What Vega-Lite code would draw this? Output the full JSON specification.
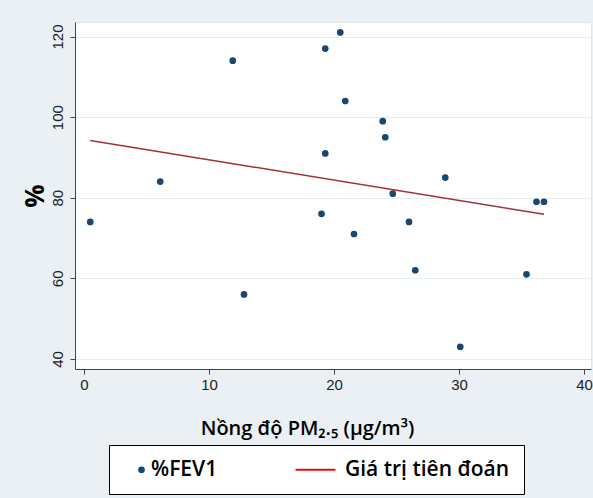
{
  "$schema": "https://vega.github.io/schema/vega-lite/v6.json",
  "width": 516,
  "height": 347,
  "autosize": {"type": "none"},
  "padding": {"left": 75, "top": 22, "right": 2, "bottom": 129},
  "background": "#eaf0f3",
  "config": {
    "view": {"fill": "white", "stroke": "#dde6ea", "strokeWidth": 1},
    "font": "Liberation Sans"
  },
  "datasets": {
    "pts": [
      {"pm": 0.5, "fev": 74, "series": "%FEV1"},
      {"pm": 6.1, "fev": 84, "series": "%FEV1"},
      {"pm": 11.9, "fev": 114, "series": "%FEV1"},
      {"pm": 12.8, "fev": 56, "series": "%FEV1"},
      {"pm": 20.5, "fev": 121, "series": "%FEV1"},
      {"pm": 19.3, "fev": 117, "series": "%FEV1"},
      {"pm": 20.9, "fev": 104, "series": "%FEV1"},
      {"pm": 23.9, "fev": 99, "series": "%FEV1"},
      {"pm": 24.1, "fev": 95, "series": "%FEV1"},
      {"pm": 19.3, "fev": 91, "series": "%FEV1"},
      {"pm": 28.9, "fev": 85, "series": "%FEV1"},
      {"pm": 24.7, "fev": 81, "series": "%FEV1"},
      {"pm": 36.2, "fev": 79, "series": "%FEV1"},
      {"pm": 36.8, "fev": 79, "series": "%FEV1"},
      {"pm": 19.0, "fev": 76, "series": "%FEV1"},
      {"pm": 26.0, "fev": 74, "series": "%FEV1"},
      {"pm": 21.6, "fev": 71, "series": "%FEV1"},
      {"pm": 26.5, "fev": 62, "series": "%FEV1"},
      {"pm": 35.4, "fev": 61, "series": "%FEV1"},
      {"pm": 30.1, "fev": 43, "series": "%FEV1"}
    ],
    "fit": [
      {"pm": 0.5, "fev": 94.2, "series": "Giá trị tiên đoán"},
      {"pm": 36.8, "fev": 75.9, "series": "Giá trị tiên đoán"}
    ]
  },
  "layer": [
    {
      "data": {"name": "pts"},
      "mark": {"type": "point", "filled": true, "opacity": 1},
      "encoding": {
        "x": {
          "field": "pm", "type": "quantitative",
          "scale": {"domain": [-0.72, 40.56], "nice": false, "zero": false},
          "axis": {
            "title": "Nồng độ PM₂.₅ (µg/m³)",
            "titleFont": "Open Sans", "titleFontSize": 20, "titleFontWeight": 600,
            "titleColor": "black", "titlePadding": 26, "titleX": 232,
            "values": [0, 10, 20, 30, 40], "grid": false,
            "domainColor": "#444", "tickColor": "#444", "tickSize": 5,
            "labelFontSize": 15, "labelColor": "#222", "labelPadding": 3
          }
        },
        "y": {
          "field": "fev", "type": "quantitative",
          "scale": {"domain": [37.5, 123.6], "nice": false, "zero": false},
          "axis": {
            "title": "%",
            "titleFont": "Open Sans", "titleFontSize": 26, "titleFontWeight": "bold",
            "titleColor": "black", "titlePadding": 2,
            "values": [40, 60, 80, 100, 120], "grid": true, "gridColor": "#e4edf0",
            "domainColor": "#444", "tickColor": "#444", "tickSize": 5,
            "labelFontSize": 15, "labelColor": "#222", "labelPadding": 5,
            "labelAngle": 270, "labelAlign": "center", "labelBaseline": "bottom"
          }
        },
        "fill": {
          "field": "series", "type": "nominal",
          "scale": {"domain": ["%FEV1", "Giá trị tiên đoán"], "range": ["#1a476f", "#d01414"]},
          "legend": {
            "title": null, "orient": "none", "legendX": 34, "legendY": 423, "direction": "horizontal",
            "fillColor": "white", "strokeColor": "black", "padding": 14,
            "labelFont": "Open Sans", "labelFontSize": 21, "labelFontWeight": 600,
            "labelColor": "black", "columnPadding": 73, "labelOffset": -1,
            "symbolOffset": 8, "symbolOpacity": 1, "labelLimit": 400,
            "labelExpr": "datum.label === '%FEV1' ? datum.label : datum.label + '\u00a0\u00a0\u00a0\u00a0\u00a0\u00a0\u00a0\u00a0\u00a0\u00a0\u00a0'"
          }
        },
        "stroke": {
          "field": "series", "type": "nominal",
          "scale": {"domain": ["%FEV1", "Giá trị tiên đoán"], "range": ["#1a476f", "#e01010"]}
        },
        "strokeWidth": {
          "field": "series", "type": "nominal",
          "scale": {"domain": ["%FEV1", "Giá trị tiên đoán"], "range": [0, 2]}
        },
        "size": {
          "field": "series", "type": "nominal",
          "scale": {"domain": ["%FEV1", "Giá trị tiên đoán"], "range": [45, 100]}
        },
        "shape": {
          "field": "series", "type": "nominal",
          "scale": {"domain": ["%FEV1", "Giá trị tiên đoán"], "range": ["circle", "M-8,0H0"]}
        }
      }
    },
    {
      "data": {"name": "fit"},
      "mark": {"type": "line", "color": "#a3303a", "strokeWidth": 1.5},
      "encoding": {
        "x": {"field": "pm", "type": "quantitative"},
        "y": {"field": "fev", "type": "quantitative"}
      }
    }
  ]
}
